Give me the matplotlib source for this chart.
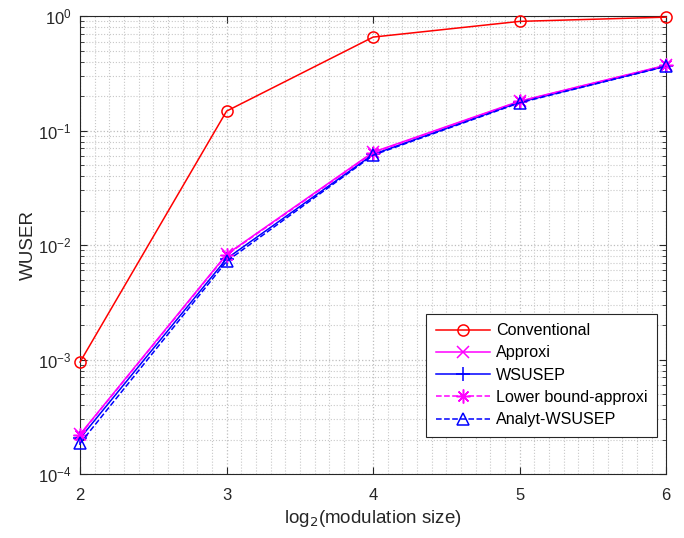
import matplotlib.pyplot as plt
import numpy as np
from matplotlib.ticker import MultipleLocator, LogLocator, NullFormatter

plt.rcParams['font.family'] = ['Liberation Sans', 'DejaVu Sans']

x = [2, 3, 4, 5, 6]
conventional = [9.5e-4, 0.148, 0.656, 0.90, 0.98]
approxi = [2.22e-4, 8.3e-3, 0.0649, 0.181, 0.373]
wsusep = [2.05e-4, 7.6e-3, 0.0620, 0.177, 0.366]
lower_bound = [2.2e-4, 8.2e-3, 0.0640, 0.180, 0.371]
analyt = [1.85e-4, 7.2e-3, 0.0610, 0.175, 0.364]

fig = plt.figure(figsize=(6.84, 5.38), dpi=100)
ax = fig.add_axes([0.117, 0.119, 0.857, 0.851])

kw = dict(lw=1.1, mew=1.1, clip_on=False, zorder=3)
ax.semilogy(x, conventional, '-', marker='o', color='red', ms=8, mfc='none', label='Conventional', **kw)
ax.semilogy(x, approxi, '-', marker='x', color='magenta', ms=8, label='Approxi', **kw)
ax.semilogy(x, wsusep, '-', marker='+', color='blue', ms=10, label='WSUSEP', **kw)
ax.semilogy(x, lower_bound, '--', marker=(8, 2, 0), color='magenta', ms=10, label='Lower bound-approxi', **kw)
ax.semilogy(x, analyt, '--', marker='^', color='blue', ms=8, mfc='none', label='Analyt-WSUSEP', **kw)

ax.set_xlim(2, 6)
ax.set_ylim(1e-4, 1)
ax.xaxis.set_major_locator(MultipleLocator(1))
ax.xaxis.set_minor_locator(MultipleLocator(0.1))
ax.yaxis.set_major_locator(LogLocator(base=10, numticks=10))
ax.yaxis.set_minor_locator(LogLocator(base=10, subs=np.arange(2, 10), numticks=10))
ax.yaxis.set_minor_formatter(NullFormatter())

ax.grid(True, which='major', color='#bdbdbd', ls=':', lw=0.9)
ax.grid(True, which='minor', color='#c8c8c8', ls=':', lw=0.8)
ax.tick_params(which='both', direction='in', top=True, right=True, labelsize=12, colors='#262626')
ax.tick_params(which='minor', length=3)
ax.tick_params(axis='x', which='minor', length=0)
ax.tick_params(which='major', length=5)
ax.tick_params(axis='x', which='major', pad=10)
ax.tick_params(axis='y', which='major', pad=6)
for s in ax.spines.values():
    s.set_color('#262626')
    s.set_linewidth(0.8)

ax.set_xlabel(r'log$_2$(modulation size)', fontsize=13.5, color='#262626', labelpad=4)
ax.set_ylabel('WUSER', fontsize=13.5, color='#262626', labelpad=1)

leg = ax.legend(loc='lower right', bbox_to_anchor=(0.985, 0.081), borderaxespad=0, fontsize=11.6,
                handlelength=3.35, handletextpad=0.38, fancybox=False, edgecolor='#262626',
                framealpha=1, borderpad=0.6, labelspacing=0.45)
leg.get_frame().set_linewidth(0.8)

plt.savefig('out.png', dpi=100)
